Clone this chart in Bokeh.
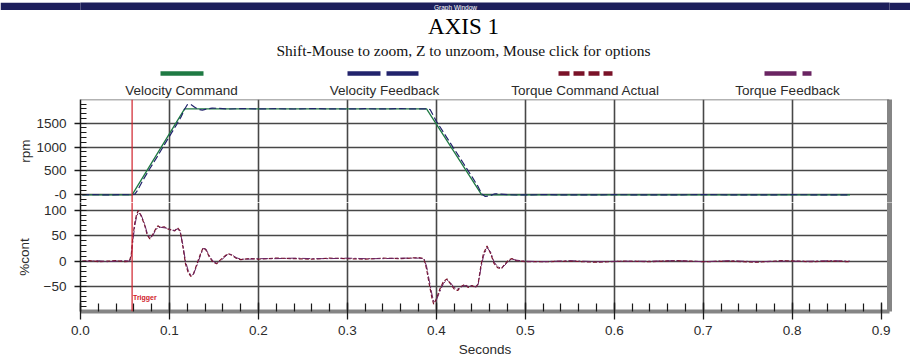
from bokeh.plotting import figure
from bokeh.layouts import column
from bokeh.models import (Range1d, LinearAxis, SingleIntervalTicker, FixedTicker, Grid,
                          Span, Label, PrintfTickFormatter)
from bokeh.core.properties import value
from bokeh.embed import file_html
from bokeh.resources import INLINE

# ---------------- data ----------------
WINDOW_TITLE = "Graph Window"
TITLE = "AXIS 1"
SUBTITLE = "Shift-Mouse to zoom, Z to unzoom, Mouse click for options"
SERIES = ["Velocity Command", "Velocity Feedback", "Torque Command Actual", "Torque Feedback"]
X_LABEL = "Seconds"
RPM_LABEL = "rpm"
CONT_LABEL = "%cont"
RPM_LABEL_OVERRIDES = {0: "-0"}
TRIGGER_T = 0.058
TRIGGER_TEXT = "Trigger"

# Velocity command (rpm)
VC_T = [0.002, 0.058, 0.117, 0.389, 0.451, 0.865]
VC_V = [0, 0, 1800, 1800, 0, 0]

# Velocity feedback (rpm)
VF_T = [0.002, 0.015, 0.030, 0.045, 0.058, 0.061, 0.064, 0.070, 0.078, 0.086,
        0.094, 0.102, 0.108, 0.113, 0.117, 0.120, 0.124, 0.128, 0.132, 0.137,
        0.142, 0.148, 0.155, 0.165, 0.180, 0.200, 0.220, 0.240, 0.260, 0.280,
        0.300, 0.320, 0.340, 0.360, 0.380, 0.389, 0.393, 0.400, 0.410, 0.420,
        0.430, 0.440, 0.447, 0.451, 0.455, 0.460, 0.466, 0.472, 0.480, 0.490,
        0.520, 0.560, 0.600, 0.650, 0.700, 0.750, 0.800, 0.840, 0.865]
VF_V = [0, 4, -3, 3, 0, 15, 90, 300, 550, 790,
        1040, 1285, 1470, 1630, 1790, 1885, 1890, 1840, 1790, 1772,
        1795, 1815, 1810, 1795, 1805, 1798, 1803, 1796, 1804, 1800,
        1796, 1803, 1798, 1804, 1797, 1800, 1785, 1540, 1250, 960,
        670, 380, 170, 20, -35, -20, 22, 15, 3, -4,
        3, -3, 2, -2, 3, -2, 2, -1, 0]

# Torque (%cont)
TQ_T = [0.002, 0.010, 0.020, 0.030, 0.040, 0.050, 0.055,
        0.057, 0.059, 0.061, 0.063, 0.065,
        0.068, 0.072, 0.075, 0.078, 0.081, 0.084, 0.087, 0.090, 0.094, 0.098,
        0.102, 0.106, 0.109, 0.112, 0.115,
        0.118, 0.121, 0.124, 0.127, 0.131, 0.135, 0.138, 0.141, 0.145, 0.149,
        0.153, 0.157, 0.162, 0.166, 0.170, 0.175, 0.180,
        0.190, 0.200, 0.220, 0.240, 0.260, 0.280, 0.300, 0.320, 0.340, 0.360,
        0.380, 0.386,
        0.389, 0.392, 0.395, 0.397, 0.400, 0.404, 0.408, 0.412, 0.416, 0.420,
        0.424, 0.428, 0.432, 0.436, 0.440, 0.444, 0.447, 0.450,
        0.453, 0.457, 0.461, 0.465, 0.469, 0.473, 0.477, 0.481, 0.485, 0.490,
        0.500, 0.520, 0.550, 0.580, 0.610, 0.640, 0.670, 0.700, 0.730, 0.760,
        0.790, 0.820, 0.845, 0.865]
TC_V = [0, 1, -1, 0, 1, -1, 0,
        12, 50, 75, 92, 100,
        90, 72, 52, 44, 52, 62, 70, 66, 68, 64, 62, 60, 66, 60, 30,
        -5, -22, -30, -25, -5, 15, 27, 22, 8, -2, -5, 2, 10, 15, 12, 6, 3,
        5, 4, 6, 5, 4, 6, 5, 4, 6, 5, 7, 5,
        -15, -45, -72, -85, -75, -55, -40, -35, -45, -55, -58, -50, -46, -52, -48, -52, -45, -10,
        15, 30, 15, -5, -13, -15, -6, 2, 5, 1,
        -1, -1, 0, -2, 0, -1, 1, -1, 0, -2, 1, -1, 0, -1]
TF_V = [0, 0, 1, -1, 0, 1, 0,
        8, 42, 70, 88, 96,
        92, 74, 55, 46, 50, 60, 67, 67, 66, 65, 61, 61, 64, 58, 33,
        0, -18, -28, -26, -8, 12, 25, 24, 10, 0, -4, 0, 8, 14, 13, 7, 4,
        4, 5, 5, 6, 5, 5, 6, 5, 5, 6, 6, 5,
        -10, -38, -65, -80, -77, -60, -44, -37, -43, -52, -55, -51, -48, -50, -49, -51, -46, -15,
        10, 27, 18, -2, -11, -14, -8, 0, 4, 2,
        0, -1, 1, -1, 0, 0, 1, -1, 1, -1, 0, 0, 1, 0]

GRID_X = [0.1, 0.2, 0.3, 0.4, 0.5, 0.6, 0.7, 0.8]

# ---------------- styles ----------------
COLORS = ["#1f7a43", "#22236c", "#7a1228", "#6a2462"]
SANS = "Liberation Sans"
SERIF = "Liberation Serif"
TXT = "#2b2b2b"
GRID_COL = "#474747"
NAVY = "#1d1f5c"
W = 910
BL, BR = 80, 21
X_RANGE = Range1d(0, 0.9094)

# ---------------- window title bar (page pixels) ----------------
bar = figure(width=W, height=10, x_range=Range1d(BL, W - BR), y_range=Range1d(10, 0),
             x_axis_type=None, y_axis_type=None, output_backend="svg",
             toolbar_location=None, min_border_left=BL, min_border_right=BR,
             min_border_top=0, min_border_bottom=0, outline_line_color=None,
             background_fill_color=NAVY, border_fill_color=NAVY)
bar.text(x=[455], y=[5], text=[WINDOW_TITLE], text_font=value(SANS), text_font_size="6.5px",
         text_color="white", text_align="center", text_baseline="middle")

# ---------------- header (page pixels, offset 10) ----------------
HY = 10
hdr = figure(width=W, height=89, x_range=Range1d(BL, W - BR), y_range=Range1d(99, HY),
             x_axis_type=None, y_axis_type=None, output_backend="svg",
             toolbar_location=None, min_border_left=BL, min_border_right=BR,
             min_border_top=0, min_border_bottom=0, outline_line_color=None)
hdr.text(x=[463], y=[26], text=[TITLE], text_font=value(SERIF), text_font_size="23px",
         text_color="black", text_align="center", text_baseline="middle")
hdr.text(x=[463], y=[50], text=[SUBTITLE], text_font=value(SERIF), text_font_size="15.5px",
         text_color="#111111", text_align="center", text_baseline="middle")

leg_cx = [181, 384, 585, 787]
leg_sw = [(160, 203, "solid"), (347, 418, "33 6"), (558, 612, "11 4"), (764, 811, "32 6 9 60")]
for i, name in enumerate(SERIES):
    x0, x1, dash = leg_sw[i]
    hdr.line(x=[x0, x1], y=[73, 73], line_color=COLORS[i], line_width=4.5, line_dash=dash)
    hdr.text(x=[leg_cx[i]], y=[90], text=[name], text_font=value(SANS), text_font_size="13.5px",
             text_color=TXT, text_align="center", text_baseline="middle")


def style_left(ax, label_standoff):
    ax.axis_line_color = "#1a1a1a"
    ax.axis_line_width = 1.5
    ax.major_tick_in = 0
    ax.major_tick_out = 6
    ax.major_tick_line_color = "#1a1a1a"
    ax.major_tick_line_width = 1.3
    ax.minor_tick_in = 6
    ax.minor_tick_out = 0
    ax.minor_tick_line_color = "#1a1a1a"
    ax.minor_tick_line_width = 1
    ax.major_label_text_font = SANS
    ax.major_label_text_font_size = "13.5px"
    ax.major_label_text_color = TXT
    ax.major_label_standoff = 8
    ax.axis_label_text_font = SANS
    ax.axis_label_text_font_size = "13.5px"
    ax.axis_label_text_font_style = "normal"
    ax.axis_label_text_color = TXT
    ax.axis_label_standoff = label_standoff


def shadow_right(p):
    ax = LinearAxis(ticker=FixedTicker(ticks=[]), axis_line_color="#858585", axis_line_width=5,
                    major_tick_out=0, major_tick_in=0, minor_tick_out=0, minor_tick_in=0,
                    major_label_standoff=0)
    p.add_layout(ax, "right")


def add_grids(p, yticker):
    p.add_layout(Grid(dimension=0, ticker=FixedTicker(ticks=GRID_X),
                      grid_line_color=GRID_COL, grid_line_width=1.6))
    p.add_layout(Grid(dimension=1, ticker=yticker,
                      grid_line_color=GRID_COL, grid_line_width=1.6))


# ---------------- upper (rpm) ----------------
up = figure(width=W, height=103, x_range=X_RANGE, y_range=Range1d(-161, 1995),
            x_axis_type=None, y_axis_type=None, output_backend="svg", toolbar_location=None,
            min_border_left=BL, min_border_right=BR, min_border_top=0, min_border_bottom=0,
            outline_line_color=None)
up_ticker = SingleIntervalTicker(interval=500, num_minor_ticks=5)
yax_up = LinearAxis(ticker=up_ticker, axis_label=RPM_LABEL, major_label_overrides=RPM_LABEL_OVERRIDES)
style_left(yax_up, 0)
up.add_layout(yax_up, "left")
shadow_right(up)
add_grids(up, up_ticker)
up.add_layout(Span(location=1995, dimension="width", line_color="#666666", line_width=1.5))
up.add_layout(Span(location=TRIGGER_T, dimension="height", line_color="#d0202a", line_width=1.2))
up.line(VC_T, VC_V, line_color=COLORS[0], line_width=1.3)
up.line(VF_T, VF_V, line_color=COLORS[1], line_width=1.2, line_dash="7 3")

# ---------------- lower (%cont) ----------------
lo = figure(width=W, height=160, x_range=X_RANGE, y_range=Range1d(-99.5, 116),
            x_axis_type=None, y_axis_type=None, output_backend="svg", toolbar_location=None,
            min_border_left=BL, min_border_right=BR, min_border_top=0, min_border_bottom=51,
            outline_line_color=None)
lo_ticker = SingleIntervalTicker(interval=50, num_minor_ticks=5)
yax_lo = LinearAxis(ticker=lo_ticker, axis_label=CONT_LABEL)
style_left(yax_lo, 9)
lo.add_layout(yax_lo, "left")

xax = LinearAxis(ticker=SingleIntervalTicker(interval=0.1, num_minor_ticks=5),
                 formatter=PrintfTickFormatter(format="%.1f"), axis_label=X_LABEL)
xax.axis_line_color = "#858585"
xax.axis_line_width = 4
xax.major_tick_in = 9
xax.major_tick_out = 8
xax.major_tick_line_color = "#1a1a1a"
xax.major_tick_line_width = 1.3
xax.minor_tick_in = 8
xax.minor_tick_out = 0
xax.minor_tick_line_color = "#1a1a1a"
xax.minor_tick_line_width = 1.2
xax.major_label_text_font = SANS
xax.major_label_text_font_size = "13.5px"
xax.major_label_text_color = TXT
xax.major_label_standoff = 6
xax.axis_label_text_font = SANS
xax.axis_label_text_font_size = "13.5px"
xax.axis_label_text_font_style = "normal"
xax.axis_label_text_color = TXT
xax.axis_label_standoff = 4
lo.add_layout(xax, "below")
shadow_right(lo)
add_grids(lo, lo_ticker)
lo.add_layout(Span(location=TRIGGER_T, dimension="height", line_color="#d0202a", line_width=1.2))
lo.add_layout(Label(x=TRIGGER_T + 0.001, y=-72, text=TRIGGER_TEXT, text_font=SANS,
                    text_font_size="7px", text_font_style="bold", text_color="#d0202a",
                    text_baseline="middle", text_align="left"))
lo.line(TQ_T, TC_V, line_color=COLORS[2], line_width=1.2, line_dash="4 2")
lo.line(TQ_T, TF_V, line_color=COLORS[3], line_width=1.0, line_dash="8 2 2 2")

layout = column(bar, hdr, up, lo)
open("out.html", "w").write(file_html(layout, INLINE))
